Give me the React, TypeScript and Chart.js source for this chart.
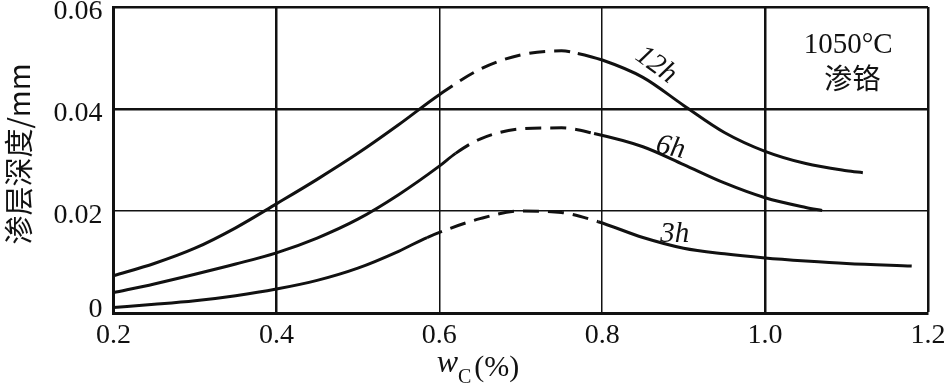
import React, { useEffect, useRef } from "react";
import { Chart, registerables } from "chart.js";

Chart.register(...registerables);

const xTicksMin = 0.2;
const xTicksMax = 1.2;
const yTicksMin = 0;
const yTicksMax = 0.06;
const yTickValues = [0, 0.02, 0.04, 0.06];
const yTickLabels = ["0", "0.02", "0.04", "0.06"];

const h12X = [0.2, 0.25, 0.3, 0.35, 0.4, 0.45, 0.5, 0.55, 0.6, 0.65, 0.7, 0.75, 0.77, 0.8, 0.85, 0.9, 0.95, 1.0, 1.05, 1.1, 1.12];
const h12Y = [0.0073, 0.0097, 0.0127, 0.0167, 0.0214, 0.0262, 0.0313, 0.0369, 0.0428, 0.0478, 0.0506, 0.0514, 0.0509, 0.0496, 0.0462, 0.0407, 0.0354, 0.0317, 0.0293, 0.0279, 0.0275];
const h12Dash = [0.6, 0.77];

const h6X = [0.2, 0.25, 0.3, 0.35, 0.4, 0.45, 0.5, 0.55, 0.6, 0.62, 0.65, 0.7, 0.75, 0.79, 0.85, 0.9, 0.95, 1.0, 1.05, 1.07];
const h6Y = [0.004, 0.0057, 0.0076, 0.0096, 0.0118, 0.0147, 0.0184, 0.0232, 0.0288, 0.0313, 0.0341, 0.0361, 0.0363, 0.0352, 0.0326, 0.0291, 0.0255, 0.0226, 0.0207, 0.0201];
const h6Dash = [0.62, 0.79];

const h3X = [0.2, 0.25, 0.3, 0.35, 0.4, 0.45, 0.5, 0.55, 0.585, 0.65, 0.7, 0.75, 0.795, 0.85, 0.9, 0.95, 1.0, 1.05, 1.1, 1.18];
const h3Y = [0.0011, 0.0017, 0.0024, 0.0034, 0.0047, 0.0064, 0.0088, 0.0121, 0.0148, 0.0185, 0.02, 0.0197, 0.0179, 0.0148, 0.0127, 0.0116, 0.0108, 0.0102, 0.0097, 0.0092];
const h3Dash = [0.585, 0.795];

const seriesLabels = ["12h", "6h", "3h"];
const curveLabelPos = [
  { x: 0.866, y: 0.0486, rot: 36 },
  { x: 0.884, y: 0.0324, rot: 12 },
  { x: 0.889, y: 0.0155, rot: 0 },
];
const noteLines = ["1050°C", "渗铬"];
const notePos = [
  { x: 1.102, y: 0.0525 },
  { x: 1.107, y: 0.046 },
];
const yTitle = "渗层深度/mm";

const SERIF = "'Liberation Serif', 'Noto Sans CJK SC', serif";
const CJK = "'Noto Sans CJK SC', 'Liberation Serif', serif";

const near = (a: number, b: number) => Math.abs(a - b) < 1e-6;

function makeDataset(xs: number[], ys: number[], dash: number[]) {
  return {
    data: xs.map((x, i) => ({ x, y: ys[i] })),
    borderColor: "#111",
    borderWidth: 3,
    pointRadius: 0,
    fill: false,
    cubicInterpolationMode: "monotone" as const,
    segment: {
      borderDash: (ctx: any) =>
        ctx.p0.parsed.x >= dash[0] - 1e-9 && ctx.p1.parsed.x <= dash[1] + 1e-9 ? [16, 9] : undefined,
    },
  };
}

const textPlugin = {
  id: "textPlugin",
  afterDraw(chart: any) {
    const ctx = chart.ctx;
    const xs = chart.scales.x;
    const ys = chart.scales.y;
    ctx.save();
    ctx.fillStyle = "#111";
    ctx.textAlign = "right";
    ctx.textBaseline = "middle";
    ctx.font = `28px ${SERIF}`;
    yTickValues.forEach((v, i) => {
      const off = near(v, 0) ? -3 : 5;
      ctx.fillText(yTickLabels[i], chart.chartArea.left - 11, ys.getPixelForValue(v) + off);
    });
    ctx.textAlign = "center";
    seriesLabels.forEach((lab, i) => {
      const p = curveLabelPos[i];
      ctx.save();
      ctx.translate(xs.getPixelForValue(p.x), ys.getPixelForValue(p.y));
      ctx.rotate((p.rot * Math.PI) / 180);
      ctx.font = `italic 29px ${SERIF}`;
      ctx.fillText(lab, 0, 0);
      ctx.restore();
    });
    ctx.font = `29px ${SERIF}`;
    ctx.fillText(noteLines[0], xs.getPixelForValue(notePos[0].x), ys.getPixelForValue(notePos[0].y));
    ctx.font = `28px ${CJK}`;
    ctx.fillText(noteLines[1], xs.getPixelForValue(notePos[1].x), ys.getPixelForValue(notePos[1].y));
    ctx.save();
    ctx.translate(19, 154);
    ctx.rotate(-Math.PI / 2);
    ctx.font = `29px ${CJK}`;
    ctx.fillText(yTitle, 0, 0);
    ctx.restore();
    ctx.textAlign = "left";
    ctx.textBaseline = "alphabetic";
    const fW = `italic 32px ${SERIF}`;
    const fC = `20px ${SERIF}`;
    const fP = `30px ${SERIF}`;
    ctx.font = fW;
    const wW = ctx.measureText("w").width;
    ctx.font = fC;
    const wC = ctx.measureText("C").width;
    ctx.font = fP;
    const wP = ctx.measureText("(%)").width;
    const total = wW + wC + 3 + wP;
    let x = 478 - total / 2;
    const base = 372;
    ctx.font = fW;
    ctx.fillText("w", x, base);
    x += wW;
    ctx.font = fC;
    ctx.fillText("C", x, base + 11);
    x += wC + 3;
    ctx.font = fP;
    ctx.fillText("(%)", x, base + 4);
    ctx.restore();
  },
};

export default function App() {
  const ref = useRef<HTMLCanvasElement | null>(null);
  useEffect(() => {
    if (!ref.current) return;
    const zeroPad = (s: any) => {
      s.paddingTop = 0;
      s.paddingBottom = 0;
      s.paddingLeft = 0;
      s.paddingRight = 0;
    };
    const chart = new Chart(ref.current, {
      type: "line",
      data: {
        datasets: [
          makeDataset(h12X, h12Y, h12Dash),
          makeDataset(h6X, h6Y, h6Dash),
          makeDataset(h3X, h3Y, h3Dash),
        ] as any,
      },
      options: {
        animation: false,
        responsive: false,
        layout: { autoPadding: false, padding: { left: 0, top: 7, right: 18, bottom: 0 } },
        plugins: { legend: { display: false }, tooltip: { enabled: false } },
        scales: {
          x: {
            type: "linear",
            min: xTicksMin,
            max: xTicksMax,
            afterFit: (s: any) => {
              s.height = 73;
              zeroPad(s);
            },
            border: { display: true, width: 3, color: "#111" },
            grid: {
              drawTicks: false,
              color: "#111",
              lineWidth: (c: any) => {
                const v = c.tick ? c.tick.value : 0;
                return near(v, 0.4) || near(v, 1.0) || near(v, 1.2) ? 2.5 : 1.5;
              },
            },
            ticks: {
              stepSize: 0.2,
              padding: 6,
              color: "#111",
              font: { family: SERIF, size: 28 },
              callback: (v: any) => Number(v).toFixed(1),
            },
          },
          y: {
            type: "linear",
            min: yTicksMin,
            max: yTicksMax,
            afterFit: (s: any) => {
              s.width = 113.5;
              zeroPad(s);
            },
            border: { display: true, width: 3, color: "#111" },
            grid: {
              drawTicks: false,
              color: "#111",
              lineWidth: (c: any) => {
                const v = c.tick ? c.tick.value : 0;
                return near(v, 0.04) || near(v, 0.06) ? 2.5 : 1.5;
              },
            },
            ticks: {
              stepSize: 0.02,
              display: false,
            },
          },
        },
      },
      plugins: [textPlugin],
    });
    return () => chart.destroy();
  }, []);
  return (
    <div style={{ position: "absolute", left: 0, top: 0, width: 946, height: 386, background: "#fff" }}>
      <canvas ref={ref} width={946} height={386} style={{ display: "block" }} />
    </div>
  );
}
